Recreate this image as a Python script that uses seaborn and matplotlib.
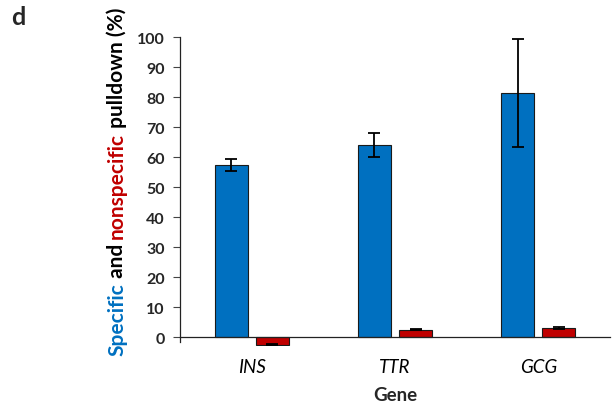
import pandas as pd
import matplotlib.pyplot as plt
import seaborn as sns

genes = ['INS', 'TTR', 'GCG']
specific = [57.4, 64.0, 81.4]
specific_err = [2.1, 3.9, 18.1]
nonspecific = [-2.5, 2.5, 2.9]
nonspecific_err = [0.3, 0.3, 0.3]

blue = '#0070C0'
red = '#C00000'
font = ['Lato', 'DejaVu Sans']

df = pd.DataFrame({
    'Gene': genes * 2,
    'value': specific + nonspecific,
    'kind': ['specific'] * 3 + ['nonspecific'] * 3,
})
errs = {'specific': specific_err, 'nonspecific': nonspecific_err}

sns.set_style('white')
plt.rcParams['font.family'] = font

fig = plt.figure(figsize=(6.13, 4.14), dpi=100)
ax = fig.add_axes([0.2936, 0.1618, 0.7014, 0.7464])

sns.barplot(data=df, x='Gene', y='value', hue='kind', order=genes,
            hue_order=['specific', 'nonspecific'], palette=[blue, red],
            errorbar=None, width=0.574, gap=0.195, edgecolor='#1a1a1a',
            linewidth=0.8, legend=False, ax=ax, saturation=1)

# error bars on top of each bar
for cont, kind in zip(ax.containers, ['specific', 'nonspecific']):
    for bar, e in zip(cont, errs[kind]):
        xc = bar.get_x() + bar.get_width() / 2
        ax.errorbar(xc, bar.get_y() + bar.get_height(), yerr=e, color='black',
                    capsize=4, elinewidth=1.3, capthick=1.3, zorder=5)

ax.set_ylim(-3, 100)
ax.set_xlim(-0.5, 2.5)
ax.set_yticks(range(0, 101, 10))
ax.spines['top'].set_visible(False)
ax.spines['right'].set_visible(False)
ax.spines['left'].set_bounds(-1.7, 100)
ax.spines['bottom'].set_position(('data', 0))
for s in ['left', 'bottom']:
    ax.spines[s].set_color('#222222')
    ax.spines[s].set_linewidth(0.9)

ax.tick_params(axis='y', direction='out', length=5, width=0.8, color='#444444',
               labelsize=11.5, pad=6, left=True)
ax.tick_params(axis='x', length=0, labelsize=13.5, pad=15, labelcolor='black')
for t in ax.get_yticklabels():
    t.set_fontweight('bold')
for t in ax.get_xticklabels():
    t.set_fontstyle('italic')

ax.set_xlabel('')
ax.set_ylabel('')
fig.text(395 / 613, 1 - 396 / 414, 'Gene', ha='center', va='center',
         fontsize=13.5, fontweight='bold')
fig.text(0.018, 0.985, 'd', ha='left', va='top', fontsize=18, fontweight='bold')

# multicoloured rotated y label, stacked bottom to top
parts = [('Specific', blue), (' and ', 'black'), ('nonspecific', red),
         (' pulldown (%)', 'black')]
fig.canvas.draw()
renderer = fig.canvas.get_renderer()
x_px = 117
y_px = 414 - 356
for txt, col in parts:
    t = fig.text(x_px / 613, y_px / 414, txt, rotation=90, color=col,
                 fontsize=15, fontweight='bold', ha='left', va='center',
                 rotation_mode='anchor')
    bb = t.get_window_extent(renderer)
    y_px += bb.height

fig.savefig('out.png', dpi=100)
